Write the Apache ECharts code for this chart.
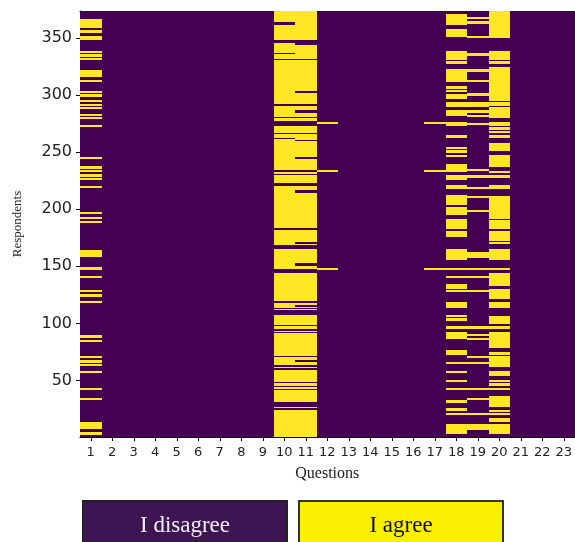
<!DOCTYPE html>
<html>
<head>
<meta charset="utf-8">
<script src="https://cdn.jsdelivr.net/npm/echarts@6/dist/echarts.min.js"></script>
<style>
html,body{margin:0;padding:0;background:#fff;}
#chart{width:575px;height:542px;}
</style>
</head>
<body>
<div id="chart"></div>
<script>
// ---- data ----
const questions = ['1','2','3','4','5','6','7','8','9','10','11','12','13','14','15','16','17','18','19','20','21','22','23'];
const respondentCount = 373;
const yTickValues = [50, 100, 150, 200, 250, 300, 350];
const legendLabels = ['I disagree', 'I agree'];

// "I agree" respondent ranges [from, to] per question (all others disagree)
const agreeQ1 = [[3,4],[8,13],[33,34],[42,43],[57,58],[63,64],[66,67],[70,71],[84,85],[88,89],[118,119],[124,125],[128,129],[140,141],[147,149],[159,164],[188,189],[192,193],[196,197],[219,220],[226,227],[229,230],[233,234],[236,237],[244,245],[272,273],[279,280],[282,283],[288,289],[291,292],[294,295],[299,300],[302,303],[312,313],[316,321],[331,332],[334,335],[337,338],[349,351],[355,356],[359,366]];
const agreeQ10 = [[1,24],[26,26],[32,41],[43,44],[46,47],[49,59],[61,61],[64,70],[72,91],[93,93],[96,97],[99,107],[112,112],[114,117],[120,144],[148,165],[169,181],[184,220],[223,229],[231,232],[235,261],[263,265],[267,272],[278,279],[281,290],[293,330],[332,335],[337,345],[349,361],[364,373]];
const agreeQ11 = [[1,24],[26,26],[32,41],[43,44],[46,47],[49,59],[61,61],[64,66],[68,70],[72,91],[93,93],[96,97],[99,107],[112,112],[114,114],[117,117],[120,144],[148,150],[153,165],[169,169],[172,181],[184,214],[217,220],[223,229],[231,232],[235,243],[246,259],[261,265],[267,272],[278,279],[281,284],[287,290],[293,301],[304,330],[332,343],[349,373]];
const agreeQ12 = [[147,148],[233,234],[275,276]];
const agreeQ17 = [[147,148],[233,234],[275,276]];
const agreeQ18 = [[4,11],[20,21],[24,25],[31,32],[42,43],[49,50],[57,58],[65,66],[73,76],[87,92],[96,97],[103,104],[106,107],[114,118],[128,129],[131,134],[140,141],[147,148],[156,165],[176,180],[183,191],[195,201],[204,212],[218,221],[226,229],[233,239],[246,247],[250,251],[253,254],[263,264],[273,276],[282,286],[290,293],[297,300],[303,304],[306,307],[312,322],[328,329],[331,338],[351,357],[362,370]];
const agreeQ19 = [[7,11],[20,21],[33,34],[42,43],[65,66],[70,71],[86,87],[89,90],[96,97],[128,129],[140,141],[147,148],[158,162],[198,199],[210,211],[218,219],[228,229],[234,235],[274,275],[281,282],[285,286],[290,293],[300,301],[312,313],[321,322],[335,336],[350,351],[363,364],[367,368]];
const agreeQ20 = [[4,11],[14,17],[20,21],[23,24],[27,36],[42,43],[46,47],[49,50],[54,58],[62,71],[73,74],[79,92],[96,97],[100,106],[114,118],[122,130],[133,144],[147,148],[156,165],[170,171],[173,180],[183,190],[192,211],[218,221],[228,229],[232,233],[237,247],[251,257],[263,264],[267,268],[270,271],[273,276],[280,289],[291,293],[295,324],[328,329],[331,338],[350,373]];

const agreeByQuestion = {
  '1': agreeQ1, '10': agreeQ10, '11': agreeQ11, '12': agreeQ12,
  '17': agreeQ17, '18': agreeQ18, '19': agreeQ19, '20': agreeQ20
};

// ---- build table: one answer per respondent and question, grouped into runs ----
const respondents = [];
for (let r = 1; r <= respondentCount; r++) respondents.push(String(r));
const runs = []; // [questionIndex, fromRowIndex, toRowIndex, answer]
questions.forEach(function (q, qi) {
  const ranges = agreeByQuestion[q] || [];
  let start = 0, prev = null;
  respondents.forEach(function (rs, ri) {
    const r = ri + 1;
    let v = 0;
    for (const rg of ranges) { if (r >= rg[0] && r <= rg[1]) { v = 1; break; } }
    if (prev === null) { prev = v; start = ri; }
    else if (v !== prev) { runs.push([qi, start, ri - 1, prev]); start = ri; prev = v; }
  });
  runs.push([qi, start, respondents.length - 1, prev]);
});

const PURPLE = '#440154', YELLOW = '#fde725';
const isTick = function (idx, val) { return yTickValues.indexOf(Number(val)) >= 0; };

function renderCell(params, api) {
  const qi = api.value(0), from = api.value(1), to = api.value(2);
  const pLow = api.coord([qi, from]);
  const pHigh = api.coord([qi, to]);
  const size = api.size([1, 1]);
  const x0 = Math.round(pLow[0] - size[0] / 2);
  const x1 = Math.round(pLow[0] + size[0] / 2);
  const y0 = Math.round(pHigh[1] - size[1] / 2);
  const y1 = Math.round(pLow[1] + size[1] / 2);
  return {
    type: 'rect',
    shape: {x: x0, y: y0, width: x1 - x0, height: y1 - y0},
    style: {fill: api.value(3) === 1 ? YELLOW : PURPLE}
  };
}

const chart = echarts.init(document.getElementById('chart'), null, {renderer: 'canvas'});
chart.setOption({
  animation: false,
  backgroundColor: '#ffffff',
  grid: {left: 80, top: 11, width: 497, height: 426, containLabel: false,
         show: true, backgroundColor: PURPLE, borderWidth: 0},
  xAxis: [{
    type: 'category', data: questions, position: 'bottom',
    axisLine: {show: true, lineStyle: {color: '#000', width: 1}},
    axisTick: {show: true, alignWithLabel: true, length: 4, lineStyle: {color: '#000'}},
    axisLabel: {color: '#222', fontFamily: 'DejaVu Sans', fontSize: 13, margin: 9, interval: 0},
    splitLine: {show: false}, splitArea: {show: false},
    name: 'Questions', nameLocation: 'middle', nameGap: 29,
    nameTextStyle: {fontFamily: 'Liberation Serif', fontSize: 16, color: '#222'}
  }, {
    type: 'category', data: questions, position: 'top', gridIndex: 0,
    axisLine: {show: true, lineStyle: {color: '#000', width: 1}},
    axisTick: {show: false}, axisLabel: {show: false}, splitLine: {show: false}
  }],
  yAxis: {
    type: 'category', data: respondents,
    axisLine: {show: true, lineStyle: {color: '#000', width: 1}},
    axisTick: {show: true, alignWithLabel: true, length: 4, interval: isTick, lineStyle: {color: '#000'}},
    axisLabel: {interval: isTick, color: '#222', fontFamily: 'DejaVu Sans', fontSize: 16, margin: 8},
    splitLine: {show: false}, splitArea: {show: false},
    name: 'Respondents', nameLocation: 'middle', nameGap: 56, nameRotate: 90,
    nameTextStyle: {fontFamily: 'Liberation Serif', fontSize: 13, color: '#222'}
  },
  series: [{
    type: 'custom', data: runs, renderItem: renderCell,
    encode: {x: 0, y: [1, 2]}, clip: true, silent: true
  }],
  graphic: [
    {type: 'rect', left: 82, top: 500, shape: {width: 204, height: 50},
     style: {fill: '#3d1552', stroke: '#222', lineWidth: 2}},
    {type: 'text', x: 185, y: 526,
     style: {text: legendLabels[0], fill: '#f4eef4', font: '23px "Liberation Serif"', align: 'center', verticalAlign: 'middle'}},
    {type: 'rect', left: 298, top: 500, shape: {width: 204, height: 50},
     style: {fill: '#f8f000', stroke: '#333', lineWidth: 2}},
    {type: 'text', x: 401, y: 526,
     style: {text: legendLabels[1], fill: '#111', font: '23px "Liberation Serif"', align: 'center', verticalAlign: 'middle'}}
  ]
});
</script>
</body>
</html>
